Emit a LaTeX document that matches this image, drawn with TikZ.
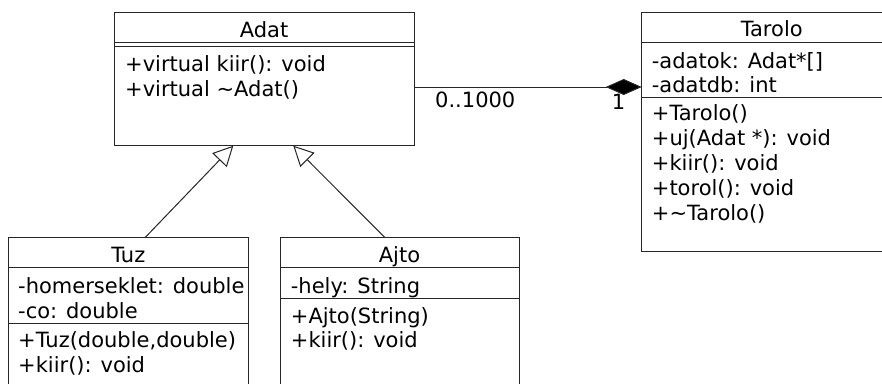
\documentclass[tikz,border=0pt]{standalone}
\usepackage{fontspec}
\setmainfont{DejaVu Sans}
\usetikzlibrary{arrows.meta}

\definecolor{umlline}{gray}{0.15}

\tikzset{
  classbox/.style={draw=umlline, line width=1pt, rectangle, inner sep=0pt, outer sep=0pt, fill=white},
  sepline/.style={draw=umlline, line width=1pt},
  label text/.style={inner sep=0pt, font=\fontsize{21pt}{25pt}\selectfont, text=black},
  member/.style={label text, anchor=base west},
  title/.style={label text, anchor=base},
  inherit/.style={draw=umlline, line width=1pt, line join=miter,
    -{Triangle[open, length=20pt, width=20pt, fill=white]}},
  compose/.style={draw=umlline, line width=1pt,
    -{Diamond[length=36pt, width=16pt, fill=black]}}
}

\begin{document}
\begin{tikzpicture}[x=1pt, y=-1pt]
  \useasboundingbox (0,0) rectangle (882,383);
  \clip (0,0) rectangle (882,383);
  \fill[white] (0,0) rectangle (882,383);

  % class Adat
  \node[classbox, anchor=north west, minimum width=300pt, minimum height=133.7pt] (adat) at (114,12) {};
  \draw[sepline] (114,42.3) -- (414,42.3);
  \draw[sepline] (114,46) -- (414,46);
  \node[title] (adat-name) at (264,37) {Adat};
  \node[member] (adat-m1) at (125,71) {+virtual kiir(): void};
  \node[member] (adat-m2) at (125,96) {+virtual \textasciitilde Adat()};

  % class Tarolo
  \node[classbox, anchor=north west, minimum width=260pt, minimum height=239.7pt] (tarolo) at (641.7,12) {};
  \draw[sepline] (641.7,42.7) -- (901.7,42.7);
  \draw[sepline] (641.7,97.7) -- (901.7,97.7);
  \node[title] (tarolo-name) at (771.7,36.8) {Tarolo};
  \node[member] (tarolo-a1) at (651.7,68) {-adatok: Adat*[]};
  \node[member] (tarolo-a2) at (651.7,92) {-adatdb: int};
  \node[member] (tarolo-m1) at (651.7,120.5) {+Tarolo()};
  \node[member] (tarolo-m2) at (651.7,145.5) {+uj(Adat *): void};
  \node[member] (tarolo-m3) at (651.7,170.5) {+kiir(): void};
  \node[member] (tarolo-m4) at (651.7,195.5) {+torol(): void};
  \node[member] (tarolo-m5) at (651.7,220.5) {+\textasciitilde Tarolo()};

  % class Tuz
  \node[classbox, anchor=north west, minimum width=240pt, minimum height=170pt] (tuz) at (8.3,237.7) {};
  \draw[sepline] (8.3,267.7) -- (248.3,267.7);
  \draw[sepline] (8.3,323.3) -- (248.3,323.3);
  \node[title] (tuz-name) at (128.3,262.7) {Tuz};
  \node[member] (tuz-a1) at (18,293) {-homerseklet: double};
  \node[member] (tuz-a2) at (18,318) {-co: double};
  \node[member] (tuz-m1) at (18,347) {+Tuz(double,double)};
  \node[member] (tuz-m2) at (18,372) {+kiir(): void};

  % class Ajto
  \node[classbox, anchor=north west, minimum width=239pt, minimum height=170pt] (ajto) at (280,237.7) {};
  \draw[sepline] (280,267.7) -- (519,267.7);
  \draw[sepline] (280,298.3) -- (519,298.3);
  \node[title] (ajto-name) at (399.5,262.7) {Ajto};
  \node[member] (ajto-a1) at (290.7,293) {-hely: String};
  \node[member] (ajto-m1) at (290.7,323) {+Ajto(String)};
  \node[member] (ajto-m2) at (290.7,347.5) {+kiir(): void};

  % generalisations
  \draw[inherit] ([xshift=136.7pt]tuz.north west) -- ([xshift=119.3pt]adat.south west);
  \draw[inherit] ([xshift=105pt]ajto.north west) -- ([xshift=179.3pt]adat.south west);

  % composition Tarolo <>-- Adat
  \draw[compose] ([yshift=-75pt]adat.north east) -- ([yshift=-75pt]tarolo.north west);
  \node[member] (mult-many) at (435,107.7) {0..1000};
  \node[member] (mult-one) at (611.7,109) {1};
\end{tikzpicture}
\end{document}
